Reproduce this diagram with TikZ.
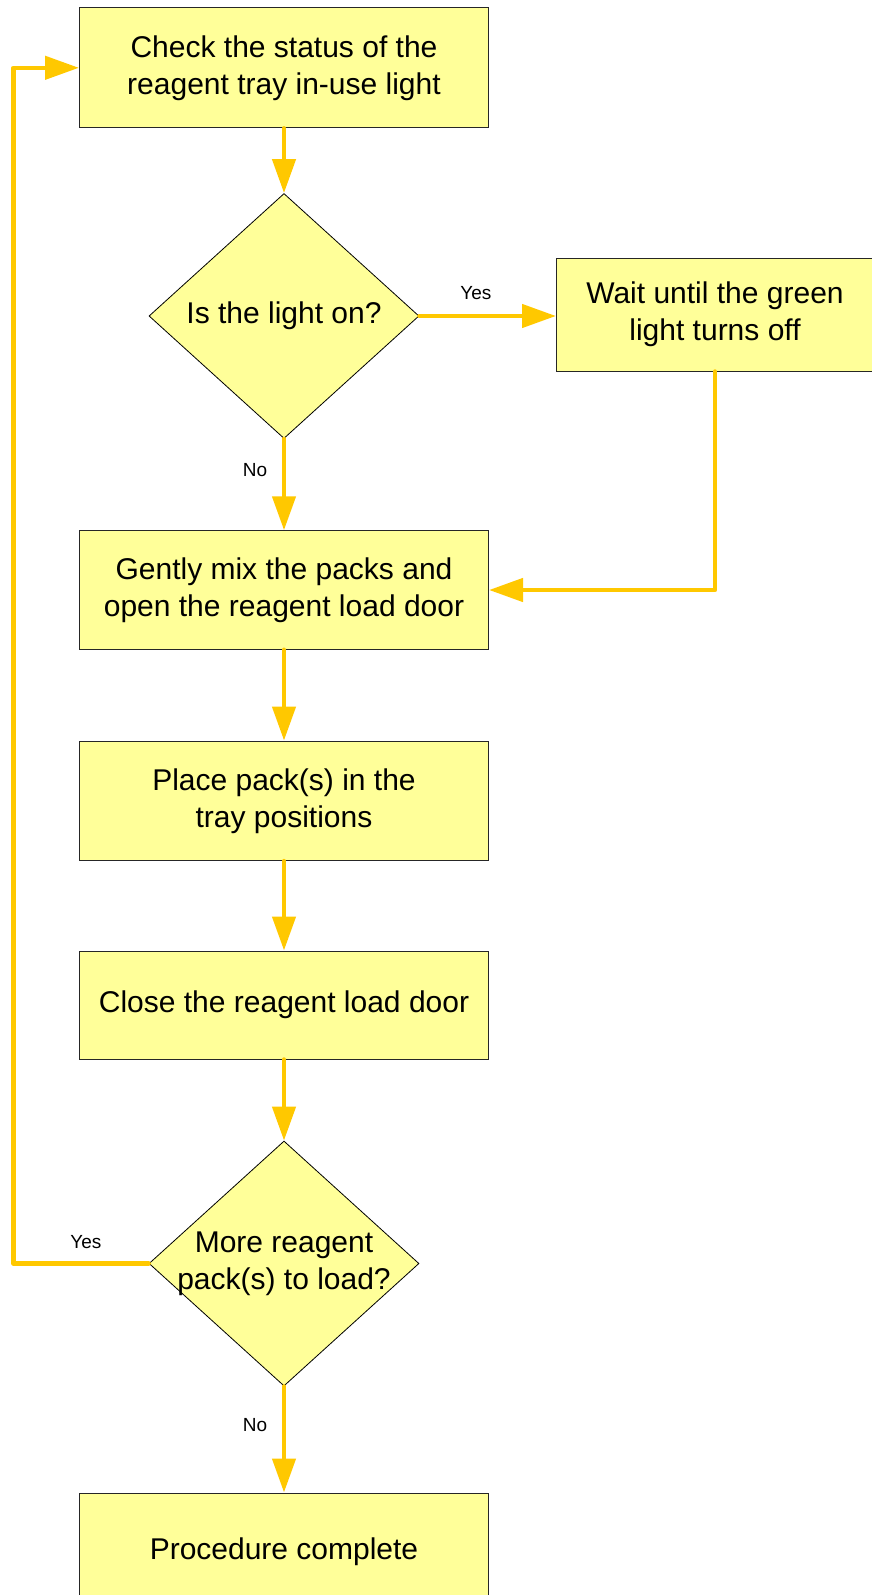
\documentclass[tikz,border=0pt]{standalone}
\usepackage{fontspec}
\setmainfont{Liberation Sans}
\usetikzlibrary{shapes.geometric,arrows.meta}
\definecolor{boxfill}{HTML}{FFFF99}
\definecolor{flowline}{HTML}{FFC800}
\tikzset{
  stepbox/.style={draw=black!85, line width=1pt, fill=boxfill, minimum width=409pt,
    align=center, inner sep=0pt, font=\fontsize{30}{37}\selectfont},
  decision/.style={diamond, draw=black, line width=0.8pt, fill=boxfill,
    minimum width=270pt, minimum height=245pt, inner sep=-30pt,
    align=center, font=\fontsize{30}{37}\selectfont},
  flow/.style={draw=flowline, line width=4.5pt, line cap=round, line join=round,
    -{Triangle[length=34pt, width=23pt]}},
  lbl/.style={font=\fontsize{19}{22}\selectfont, text=black}
}
\begin{document}
\begin{tikzpicture}[x=1pt, y=1pt]
            \clip (0,0) rectangle (872,-1595);
            \node [stepbox, minimum height=120pt] (check) at (284,-67.8) {Check the status of the\\reagent tray in-use light};
            \node [decision] (lighton) at (284,-316) {Is the light on?};
            \node [stepbox, minimum width=317pt, minimum height=113pt] (wait) at (715,-314.5) {Wait until the green\\light turns off};
            \node [stepbox, minimum height=118.5pt] (mix) at (284,-590) {Gently mix the packs and\\open the reagent load door};
            \node [stepbox, minimum height=119.5pt] (place) at (284,-800.8) {Place pack(s) in the\\tray positions};
            \node [stepbox, minimum height=108pt] (close) at (284,-1005) {Close the reagent load door};
            \node [decision] (more) at (284,-1263.5) {More reagent\\pack(s) to load?};
            \node [stepbox, minimum height=118pt] (done) at (284,-1552) {Procedure complete};
            \coordinate (loopcorner) at (13.3,-1263.5);
            \draw [flow] (check) -- (lighton);
            \draw [flow] (lighton.east) -- node [lbl, pos=0.414, yshift=23pt] {Yes} (lighton.east -| wait.west);
            \draw [flow] (lighton) -- node [lbl, pos=0.346, xshift=-29pt] {No} (mix);
            \draw [flow] (wait.south) |- (mix.east);
            \draw [flow] (mix) -- (place);
            \draw [flow] (place) -- (close);
            \draw [flow] (close) -- (more);
            \draw [flow] (more.west) -- node [lbl, pos=0.464, yshift=21pt] {Yes} (loopcorner) |- (check.west);
            \draw [flow] (more) -- node [lbl, pos=0.368, xshift=-29pt] {No} (done);
        \end{tikzpicture}
\end{document}
